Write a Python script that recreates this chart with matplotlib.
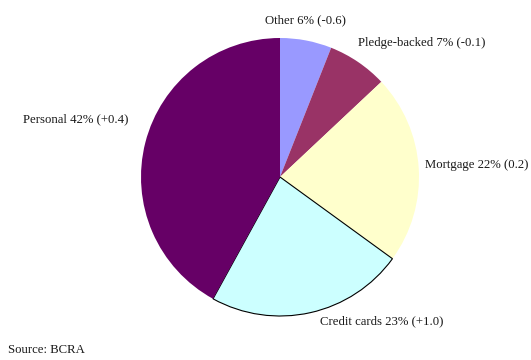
import matplotlib
matplotlib.use("Agg")
import matplotlib.pyplot as plt

categories = ["Other", "Pledge-backed", "Mortgage", "Credit cards", "Personal"]
shares = [6, 7, 22, 23, 42]
changes = ["-0.6", "-0.1", "0.2", "+1.0", "+0.4"]
colors = ["#9999FF", "#993366", "#FFFFCC", "#CCFFFF", "#660066"]

plt.rcParams["font.family"] = ["Liberation Serif", "DejaVu Serif"]

fig = plt.figure(figsize=(5.31, 3.6), dpi=100)
ax = fig.add_axes([0, 0, 1, 1])

wedges, _ = ax.pie(shares, colors=colors, startangle=90, counterclock=False,
                   center=(280, 183), radius=139, frame=True)
ax.set_xlim(0, 531)
ax.set_ylim(0, 360)
ax.set_aspect("equal")
ax.axis("off")

# only the credit-card slice gets an outline
wedges[3].set_edgecolor("black")
wedges[3].set_linewidth(0.8)

labels = [f"{c} {s}% ({d})" for c, s, d in zip(categories, shares, changes)]
# label anchors (x, y from top, alignment)
spots = [(265, 20, "left"), (358, 43, "left"), (425, 165, "left"),
         (320, 321, "left"), (128, 119, "right")]
for text, (x, y, ha) in zip(labels, spots):
    ax.text(x, 360 - y, text, ha=ha, va="center", fontsize=9.2, color="#1a1a1a")

ax.text(8, 360 - 350, "Source: BCRA", ha="left", va="center", fontsize=9.2,
        color="#1a1a1a")

fig.savefig("out.png", dpi=100)
